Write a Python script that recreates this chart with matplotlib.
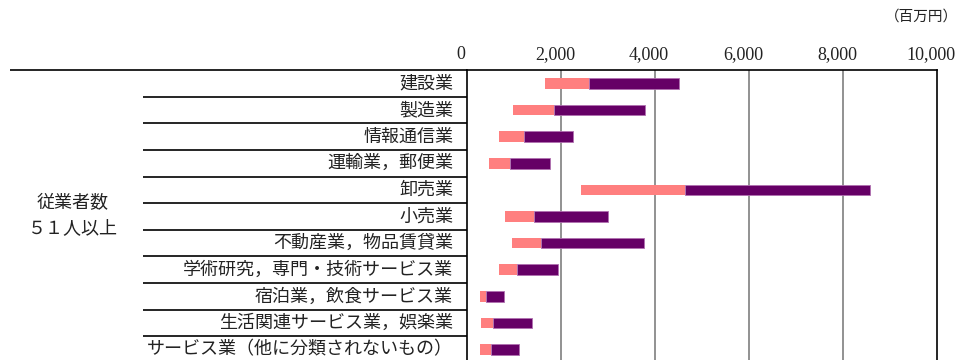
import matplotlib
matplotlib.use("Agg")
import matplotlib.pyplot as plt
from matplotlib.transforms import ScaledTranslation

plt.rcParams["font.family"] = ["Noto Sans CJK JP", "DejaVu Sans"]

# 業種別（従業者数51人以上）: 第1四分位, 中央値, 第3四分位（百万円）
industries = [
    "建設業",
    "製造業",
    "情報通信業",
    "運輸業，郵便業",
    "卸売業",
    "小売業",
    "不動産業，物品賃貸業",
    "学術研究，専門・技術サービス業",
    "宿泊業，飲食サービス業",
    "生活関連サービス業，娯楽業",
    "サービス業（他に分類されないもの）",
]
q1 = [1655, 980, 675, 469, 2429, 803, 952, 682, 277, 307, 271]
median = [2593, 1847, 1214, 916, 4638, 1421, 1585, 1074, 398, 548, 511]
q3 = [4503, 3779, 2245, 1776, 8579, 2998, 3758, 1939, 788, 1385, 1116]
xticks = [0, 2000, 4000, 6000, 8000, 10000]

pink = "#ff7f7f"
purple = "#660066"
txt = "#222222"

fig = plt.figure(figsize=(9.63, 3.6), dpi=100)
W, H = 963, 360
ax = fig.add_axes([467 / W, -3 / H, 470 / W, 293 / H])

n = len(industries)
ys = [i + 0.5 for i in range(n)]
lo_w = [m - a for a, m in zip(q1, median)]
hi_w = [b - m for m, b in zip(median, q3)]
ax.barh(ys, lo_w, left=q1, height=0.4, color=pink, zorder=3)
ax.barh(ys, hi_w, left=median, height=0.4, color=purple,
        edgecolor="#b070b0", linewidth=0.6, zorder=3)

ax.set_xlim(0, 10000)
ax.set_ylim(n, 0)
ax.set_yticks([])
ax.xaxis.tick_top()
ax.set_xticks(xticks)
ax.set_xticklabels(["{:,}".format(v) for v in xticks])
ax.tick_params(axis="x", length=0, pad=5)
shift = ScaledTranslation(-6 / 100, 0, fig.dpi_scale_trans)
for tick in ax.xaxis.get_major_ticks():
    for lab in (tick.label1, tick.label2):
        lab.set_fontfamily(["Liberation Serif"])
        lab.set_fontsize(13)
        lab.set_color(txt)
        lab.set_transform(lab.get_transform() + shift)

for v in xticks[1:-1]:
    ax.axvline(v, color="#7f7f7f", linewidth=1.2, zorder=1)
for s in ax.spines.values():
    s.set_color("black")
    s.set_linewidth(1.2)

# 表の罫線（左側）
tr = ax.get_yaxis_transform()
ax.hlines([0], -457 / 470, 0, transform=tr, color="black", linewidth=1.2,
          clip_on=False)
ax.hlines(range(1, n + 1), -324 / 470, 0, transform=tr, color="black",
          linewidth=1.2, clip_on=False)

for y, name in zip(ys, industries):
    ax.text(-14 / 470, y, name, transform=tr, ha="right", va="center",
            fontsize=13, color=txt)

fig.text(73 / W, 1 - 203 / H, "従業者数", ha="center", va="center",
         fontsize=13, color=txt)
fig.text(73 / W, 1 - 228 / H, "５１人以上", ha="center", va="center",
         fontsize=13, color=txt)
fig.text(958 / W, 1 - 17 / H, "（百万円）", ha="right", va="center",
         fontsize=10.5, color=txt)

fig.savefig("out.png", dpi=100)
